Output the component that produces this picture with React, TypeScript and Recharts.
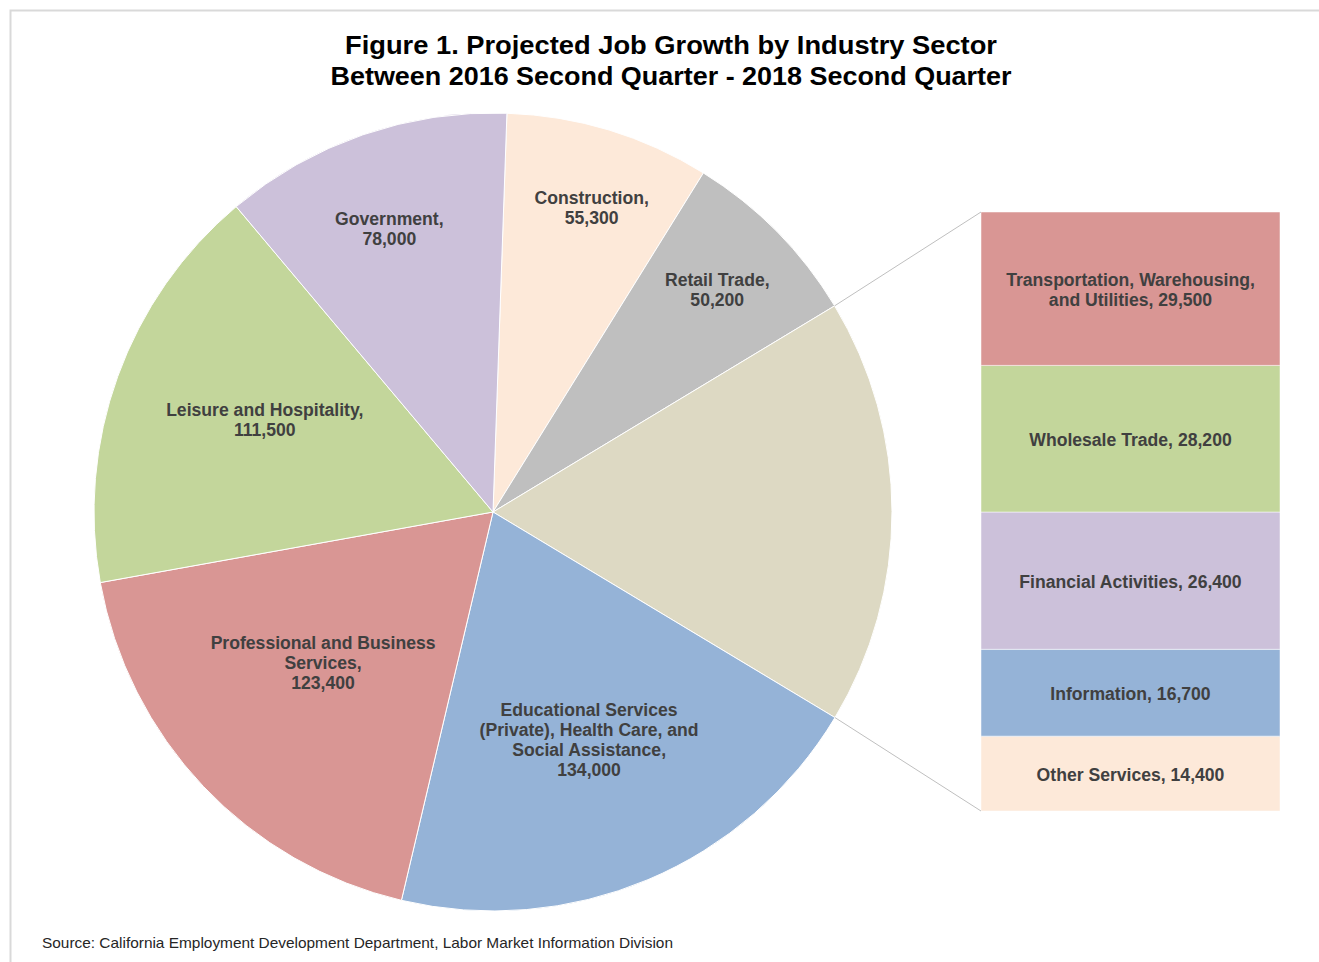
import { PieChart, Pie, Cell, BarChart, Bar, XAxis, YAxis } from 'recharts'

// pie sectors, clockwise from just right of 12 o'clock
const sectorNames = [
  'Construction',
  'Retail Trade',
  'Other',
  'Educational Services (Private), Health Care, and Social Assistance',
  'Professional and Business Services',
  'Leisure and Hospitality',
  'Government',
]
const sectorLabelLines = [
  ['Construction,', '55,300'],
  ['Retail Trade,', '50,200'],
  [],
  ['Educational Services', '(Private), Health Care, and', 'Social Assistance,', '134,000'],
  ['Professional and Business', 'Services,', '123,400'],
  ['Leisure and Hospitality,', '111,500'],
  ['Government,', '78,000'],
]

// breakdown of the "Other" slice (top to bottom of the bar)
const otherNames = [
  'Transportation, Warehousing, and Utilities',
  'Wholesale Trade',
  'Financial Activities',
  'Information',
  'Other Services',
]
const otherValues = [29500, 28200, 26400, 16700, 14400]
const otherLabelLines = [
  ['Transportation, Warehousing,', 'and Utilities, 29,500'],
  ['Wholesale Trade, 28,200'],
  ['Financial Activities, 26,400'],
  ['Information, 16,700'],
  ['Other Services, 14,400'],
]

const otherTotal = otherValues.reduce((a, b) => a + b, 0)
const sectorValues = [55300, 50200, otherTotal, 134000, 123400, 111500, 78000]

// styling
const sectorColors = ['#FDE9D9', '#BFBFBF', '#DDD9C3', '#95B3D7', '#D99694', '#C3D69B', '#CCC1DA']
const otherColors = ['#D99694', '#C3D69B', '#CCC1DA', '#95B3D7', '#FDE9D9']
const labelRadius = [0.8, 0.79, 0, 0.62, 0.57, 0.617, 0.755]
const labelAngleShift = [-1.1, 0, 0, 0, -1.8, -2.1, 1.1] // degrees, counter-clockwise

const W = 1319
const H = 962
const CX = 493
const CY = 512
const R = 399
const START = 88
const BAR_X = 981
const BAR_Y = 212
const BAR_W = 299
const BAR_H = 599
const RADIAN = Math.PI / 180
const FONT = 'Liberation Sans, Arial, sans-serif'
const LABEL_COLOR = '#404040'

const pieData = sectorNames.map((name, i) => ({ name, value: sectorValues[i] }))
const barRow: Record<string, number | string> = { name: 'Other' }
otherNames.forEach((n, i) => {
  barRow[n] = otherValues[i]
})
const barData = [barRow]

function MultiLine({ x, y, lines }: { x: number; y: number; lines: string[] }) {
  const lh = 20
  return (
    <text x={x} y={y} textAnchor="middle" fill={LABEL_COLOR} fontFamily={FONT} fontSize={17.6} fontWeight="bold">
      {lines.map((l, i) => (
        <tspan key={i} x={x} y={y + (i - (lines.length - 1) / 2) * lh} dominantBaseline="central">
          {l}
        </tspan>
      ))}
    </text>
  )
}

const renderPieLabel = (props: any) => {
  const { cx, cy, midAngle, outerRadius, index } = props
  const lines = sectorLabelLines[index]
  if (!lines || lines.length === 0) return null
  const r = outerRadius * labelRadius[index]
  const a = (midAngle + labelAngleShift[index]) * RADIAN
  const x = cx + r * Math.cos(-a)
  const y = cy + r * Math.sin(-a)
  return <MultiLine key={index} x={x} y={y} lines={lines} />
}

const makeBarLabel = (idx: number) => (props: any) => {
  const { x, y, width, height } = props
  return <MultiLine x={x + width / 2} y={y + height / 2 + 1} lines={otherLabelLines[idx]} />
}

export default function App() {
  const total = sectorValues.reduce((a, b) => a + b, 0)
  const before = sectorValues.slice(0, 2).reduce((a, b) => a + b, 0)
  const a1 = (START - (before / total) * 360) * RADIAN
  const a2 = (START - ((before + otherTotal) / total) * 360) * RADIAN
  const p1 = { x: CX + R * Math.cos(a1), y: CY - R * Math.sin(a1) }
  const p2 = { x: CX + R * Math.cos(a2), y: CY - R * Math.sin(a2) }

  // bottom of stack first
  const stackOrder = otherNames.map((_, i) => i).reverse()

  return (
    <div style={{ position: 'absolute', left: 0, top: 0, width: W, height: H, background: '#fff', overflow: 'hidden' }}>
      <div style={{ position: 'absolute', left: 0, top: 0 }}>
        <PieChart width={W} height={H} margin={{ top: 0, right: 0, bottom: 0, left: 0 }}>
          <Pie
            data={pieData}
            dataKey="value"
            nameKey="name"
            cx={CX}
            cy={CY}
            outerRadius={R}
            startAngle={START}
            endAngle={START - 360}
            stroke="#ffffff"
            strokeWidth={1}
            label={renderPieLabel}
            labelLine={false}
            isAnimationActive={false}
          >
            {pieData.map((d, i) => (
              <Cell key={d.name} fill={sectorColors[i]} />
            ))}
          </Pie>
        </PieChart>
      </div>
      <div style={{ position: 'absolute', left: BAR_X, top: BAR_Y }}>
        <BarChart
          width={BAR_W}
          height={BAR_H}
          data={barData}
          margin={{ top: 0, right: 0, bottom: 0, left: 0 }}
          barCategoryGap={0}
        >
          <XAxis dataKey="name" hide />
          <YAxis hide domain={[0, otherTotal]} />
          {stackOrder.map((i) => (
            <Bar
              key={otherNames[i]}
              dataKey={otherNames[i]}
              stackId="a"
              fill={otherColors[i]}
              stroke="#ffffff"
              strokeWidth={0.5}
              label={makeBarLabel(i)}
              isAnimationActive={false}
            />
          ))}
        </BarChart>
      </div>
      <svg width={W} height={H} style={{ position: 'absolute', left: 0, top: 0, pointerEvents: 'none' }}>
        <path d={`M10.5 ${H + 5} L10.5 10.5 L${W + 5} 10.5`} fill="none" stroke="#D9D9D9" strokeWidth={2} />
        <line x1={p1.x} y1={p1.y} x2={BAR_X} y2={BAR_Y} stroke="#BFBFBF" strokeWidth={1} />
        <line x1={p2.x} y1={p2.y} x2={BAR_X} y2={BAR_Y + BAR_H} stroke="#BFBFBF" strokeWidth={1} />
        <text x={671} y={54} textAnchor="middle" fontFamily={FONT} fontWeight="bold" fontSize={26} fill="#000" textLength={652} lengthAdjust="spacingAndGlyphs">
          Figure 1.  Projected Job Growth by Industry Sector
        </text>
        <text x={671} y={85} textAnchor="middle" fontFamily={FONT} fontWeight="bold" fontSize={26} fill="#000" textLength={681} lengthAdjust="spacingAndGlyphs">
          Between 2016 Second Quarter - 2018 Second Quarter
        </text>
        <text x={42} y={948} fontFamily={FONT} fontSize={14.5} fill="#262626" textLength={631} lengthAdjust="spacingAndGlyphs">
          Source: California Employment Development Department, Labor Market Information Division
        </text>
      </svg>
    </div>
  )
}
